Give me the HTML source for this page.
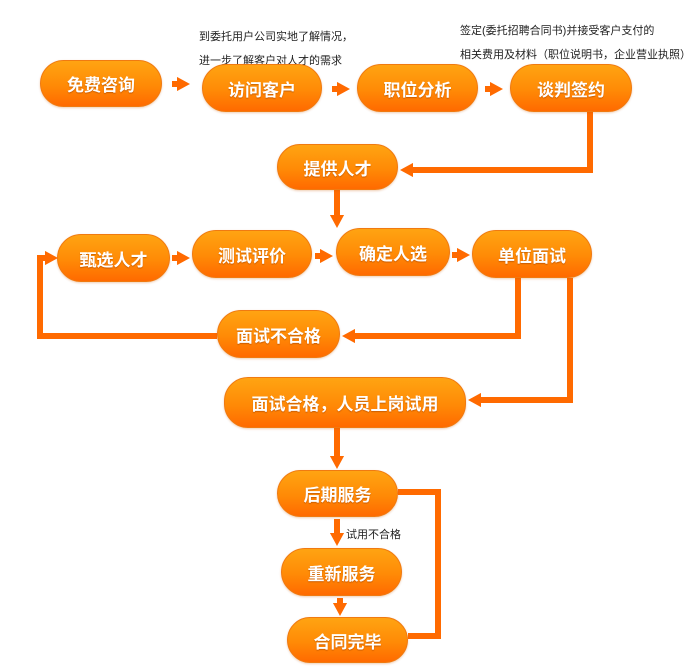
<!DOCTYPE html>
<html><head><meta charset="utf-8"><style>
body{margin:0;width:688px;height:670px;background:#fff;position:relative;overflow:hidden;font-family:"Liberation Sans","Noto Sans CJK SC",sans-serif}
.n{position:absolute;border-radius:24px;background:linear-gradient(#ffa412,#ff8a06 55%,#ff6a00);border:1px solid #f07a10;box-sizing:border-box;color:#fff;font-weight:bold;font-size:17px;display:flex;align-items:center;justify-content:center;text-shadow:0 1px 1px rgba(150,60,0,.5);box-shadow:0 1px 2px rgba(200,90,0,.3)}
.t{position:absolute;font-size:11px;color:#222;white-space:nowrap}
svg{position:absolute;left:0;top:0}
</style></head><body>
<svg width="688" height="670">
<defs><marker id="a" markerWidth="2.2" markerHeight="2.4" refX="1.2" refY="1.2" orient="auto" markerUnits="strokeWidth"><path d="M0,0L2.2,1.2L0,2.4z" fill="#ff6a00"/></marker></defs>
<g stroke="#ff6a00" stroke-width="6" fill="none">
<polyline points="590,112 590,170 406,170" marker-end="url(#a)"/>
<polyline points="337,190 337,222" marker-end="url(#a)"/>
<polyline points="518,278 518,336 348,336" marker-end="url(#a)"/>
<polyline points="217,336 40,336 40,258 52,258" marker-end="url(#a)"/>
<polyline points="570,278 570,400 474,400" marker-end="url(#a)"/>
<polyline points="337,428 337,463" marker-end="url(#a)"/>
<polyline points="398,492 438,492 438,636 408,636"/>
<polyline points="337,519 337,540" marker-end="url(#a)"/>
<polyline points="340,598 340,610" marker-end="url(#a)"/>
<line x1="172" y1="84" x2="184" y2="84" marker-end="url(#a)"/>
<line x1="332" y1="89" x2="344" y2="89" marker-end="url(#a)"/>
<line x1="485" y1="89" x2="497" y2="89" marker-end="url(#a)"/>
<line x1="172" y1="258" x2="184" y2="258" marker-end="url(#a)"/>
<line x1="315" y1="256" x2="327" y2="256" marker-end="url(#a)"/>
<line x1="452" y1="255" x2="464" y2="255" marker-end="url(#a)"/>
</g></svg>
<div class="t" style="left:199px;top:28px">到委托用户公司实地了解情况，</div>
<div class="t" style="left:199px;top:52px">进一步了解客户对人才的需求</div>
<div class="t" style="left:460px;top:22px">签定(委托招聘合同书)并接受客户支付的</div>
<div class="t" style="left:460px;top:46px">相关费用及材料（职位说明书，企业营业执照）</div>
<div class="t" style="left:346px;top:526px">试用不合格</div>
<div class="n" style="left:40px;top:60px;width:122px;height:47px">免费咨询</div>
<div class="n" style="left:202px;top:64px;width:120px;height:48px">访问客户</div>
<div class="n" style="left:357px;top:64px;width:121px;height:48px">职位分析</div>
<div class="n" style="left:510px;top:64px;width:122px;height:48px">谈判签约</div>
<div class="n" style="left:277px;top:144px;width:121px;height:46px">提供人才</div>
<div class="n" style="left:57px;top:234px;width:113px;height:48px">甄选人才</div>
<div class="n" style="left:192px;top:230px;width:120px;height:48px">测试评价</div>
<div class="n" style="left:336px;top:228px;width:114px;height:48px">确定人选</div>
<div class="n" style="left:472px;top:230px;width:120px;height:48px">单位面试</div>
<div class="n" style="left:217px;top:310px;width:123px;height:48px">面试不合格</div>
<div class="n" style="left:224px;top:377px;width:242px;height:51px">面试合格，人员上岗试用</div>
<div class="n" style="left:277px;top:470px;width:121px;height:47px">后期服务</div>
<div class="n" style="left:281px;top:548px;width:121px;height:48px">重新服务</div>
<div class="n" style="left:287px;top:617px;width:121px;height:46px">合同完毕</div>
</body></html>
